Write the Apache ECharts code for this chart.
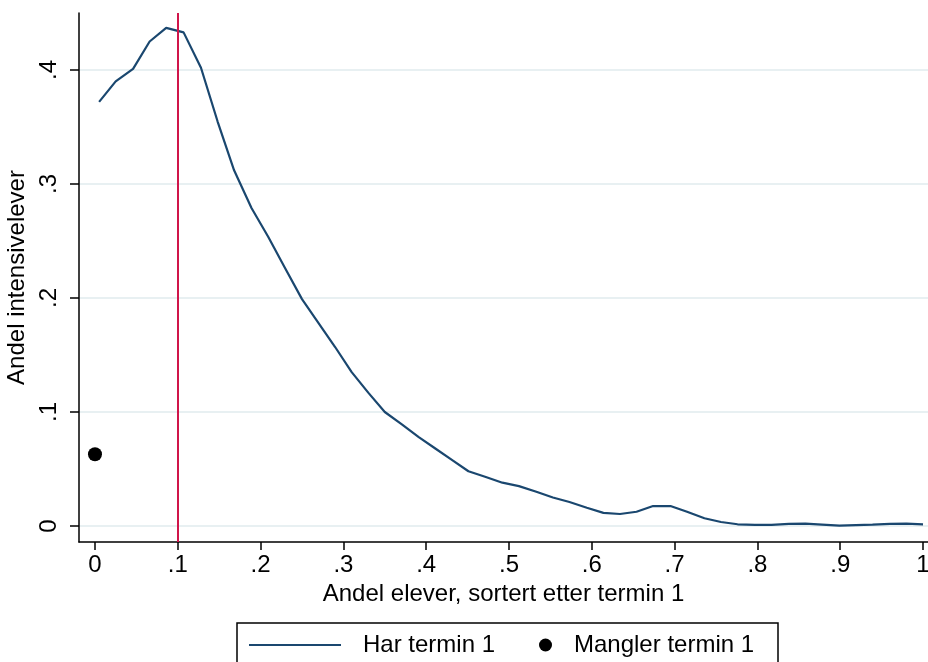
<!DOCTYPE html>
<html>
<head>
<meta charset="utf-8">
<script src="https://cdn.jsdelivr.net/npm/echarts@6/dist/echarts.min.js"></script>
<style>
  html, body { margin: 0; padding: 0; background: #fff; }
  #chart { width: 928px; height: 662px; }
</style>
</head>
<body>
<div id="chart"></div>
<script>
// Share of students sorted by term-1 result (x) and share of intensive students (y)
var shareX = [0.005, 0.025, 0.046, 0.066, 0.086, 0.107, 0.128, 0.148, 0.168, 0.189,
              0.209, 0.229, 0.250, 0.270, 0.290, 0.310, 0.330, 0.350, 0.371, 0.391,
              0.411, 0.431, 0.451, 0.472, 0.492, 0.512, 0.533, 0.553, 0.573, 0.594,
              0.614, 0.634, 0.654, 0.674, 0.695, 0.715, 0.736, 0.756, 0.776, 0.797,
              0.817, 0.838, 0.858, 0.878, 0.899, 0.919, 0.939, 0.960, 0.980, 1.000];
var intensiveShare = [0.372, 0.390, 0.401, 0.425, 0.437, 0.433, 0.402, 0.355, 0.312, 0.279,
                      0.254, 0.227, 0.199, 0.178, 0.157, 0.135, 0.117, 0.100, 0.089, 0.078,
                      0.068, 0.058, 0.048, 0.043, 0.038, 0.035, 0.030, 0.025, 0.021, 0.016,
                      0.0115, 0.0105, 0.0125, 0.0175, 0.0175, 0.0125, 0.0068, 0.0035, 0.0015, 0.0009,
                      0.0010, 0.0018, 0.0020, 0.0012, 0.0003, 0.0008, 0.0012, 0.0018, 0.0020, 0.0015];

// Students missing a term-1 result
var missingX = [0];
var missingShare = [0.063];

// Reference cut-off
var cutoffX = 0.1;

// Axis ticks and their labels
var xTicks = [0, 0.1, 0.2, 0.3, 0.4, 0.5, 0.6, 0.7, 0.8, 0.9, 1];
var xTickLabels = ['0', '.1', '.2', '.3', '.4', '.5', '.6', '.7', '.8', '.9', '1'];
var yTicks = [0, 0.1, 0.2, 0.3, 0.4];
var yTickLabels = ['0', '.1', '.2', '.3', '.4'];

var seriesNames = ['Har termin 1', 'Mangler termin 1'];

function labelFor(ticks, labels) {
  return function (v) {
    for (var i = 0; i < ticks.length; i++) {
      if (Math.abs(ticks[i] - v) < 1e-9) return labels[i];
    }
    return '';
  };
}

var FONT = '"Liberation Sans", Arial, sans-serif';
var NAVY = '#1a476f';

var chart = echarts.init(document.getElementById('chart'), null, { renderer: 'canvas' });

var option = {
  animation: false,
  backgroundColor: '#ffffff',
  grid: { left: 79, top: 13, right: 0, bottom: 120, containLabel: false, outerBoundsMode: 'none' },
  xAxis: {
    type: 'value',
    min: -0.0193,
    max: 1.006,
    name: 'Andel elever, sortert etter termin 1',
    nameLocation: 'middle',
    nameGap: 40,
    nameTextStyle: { fontFamily: FONT, fontSize: 24, color: '#000' },
    axisLine: { show: true, onZero: false, lineStyle: { color: '#000', width: 1.5 } },
    axisTick: { show: true, length: 8, customValues: xTicks, lineStyle: { color: '#000', width: 1.5 } },
    axisLabel: {
      customValues: xTicks,
      formatter: labelFor(xTicks, xTickLabels),
      fontFamily: FONT, fontSize: 24, color: '#000', margin: 11
    },
    splitLine: { show: false }
  },
  yAxis: {
    type: 'value',
    min: -0.01404,
    max: 0.45,
    name: 'Andel intensivelever',
    nameLocation: 'middle',
    nameGap: 42,
    nameTextStyle: { fontFamily: FONT, fontSize: 24, color: '#000' },
    axisLine: { show: true, onZero: false, lineStyle: { color: '#000', width: 1.5 } },
    axisTick: { show: true, length: 9, customValues: yTicks, lineStyle: { color: '#000', width: 1.5 } },
    axisLabel: {
      customValues: yTicks,
      formatter: labelFor(yTicks, yTickLabels),
      rotate: 90,
      fontFamily: FONT, fontSize: 24, color: '#000', margin: 18
    },
    splitLine: { show: true, lineStyle: { color: '#e8f0f2', width: 2 } }
  },
  legend: [
    {
      data: [{ name: seriesNames[0], icon: 'rect', itemStyle: { color: NAVY } }],
      left: 249, top: 633,
      padding: 0,
      itemWidth: 92, itemHeight: 2,
      textStyle: { fontFamily: FONT, fontSize: 24, color: '#000', lineHeight: 24, padding: [0, 0, 0, 17] },
      selectedMode: false
    },
    {
      data: [{ name: seriesNames[1], icon: 'circle', itemStyle: { color: '#000' } }],
      left: 539, top: 633,
      padding: 0,
      itemWidth: 13, itemHeight: 13,
      textStyle: { fontFamily: FONT, fontSize: 24, color: '#000', lineHeight: 24, padding: [0, 0, 0, 17] },
      selectedMode: false
    }
  ],
  graphic: [
    {
      type: 'rect',
      shape: { x: 237, y: 623, width: 541, height: 60 },
      style: { fill: 'none', stroke: '#000', lineWidth: 1.5 },
      silent: true
    }
  ],
  series: [
    {
      name: seriesNames[0],
      type: 'line',
      data: shareX.map(function (x, i) { return [x, intensiveShare[i]]; }),
      showSymbol: false,
      symbol: 'none',
      lineStyle: { color: NAVY, width: 2.2 },
      itemStyle: { color: NAVY },
      z: 3,
      markLine: {
        silent: true,
        symbol: 'none',
        label: { show: false },
        lineStyle: { color: '#d0154a', width: 2, type: 'solid' },
        data: [{ xAxis: cutoffX }],
        z: 4
      }
    },
    {
      name: seriesNames[1],
      type: 'scatter',
      data: missingX.map(function (x, i) { return [x, missingShare[i]]; }),
      symbol: 'circle',
      symbolSize: 14,
      itemStyle: { color: '#000', opacity: 1 },
      z: 5
    }
  ]
};

chart.setOption(option);
</script>
</body>
</html>
